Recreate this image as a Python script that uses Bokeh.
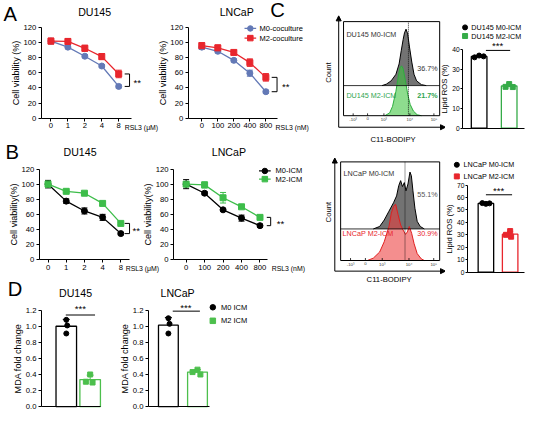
import numpy as np
from bokeh.plotting import figure
from bokeh.layouts import row, column
from bokeh.models import (Range1d, FixedTicker, Label, Whisker, TeeHead,
                          ColumnDataSource, Arrow, NormalHead, PrintfTickFormatter)
from bokeh.core.properties import value
from bokeh.embed import file_html
from bokeh.resources import INLINE

FONT = "Liberation Sans"
SX = 530 / 546
SY = 410 / 426

# ---------------- data ----------------
dose_pos = [0, 1, 2, 3, 4]
dose_uM = ["0", "1", "2", "4", "8"]
dose_nM = ["0", "100", "200", "400", "800"]

a_du145_m0 = [102, 94, 82, 69, 42]
a_du145_m0_err = [3, 2, 2, 2, 2]
a_du145_m2 = [102, 101.5, 92.5, 81.5, 58.5]
a_du145_m2_err = [4, 4, 4, 4, 5]
a_lncap_m0 = [94, 88.5, 76.5, 59.5, 35]
a_lncap_m0_err = [3, 2, 2, 4, 2]
a_lncap_m2 = [96, 93, 87, 73.5, 54]
a_lncap_m2_err = [4, 4, 3, 5, 5]

b_du145_m0 = [100, 77.5, 64.5, 56, 34.5]
b_du145_m0_err = [5, 3, 4, 4, 1.5]
b_du145_m2 = [100, 90.5, 88, 74.5, 48]
b_du145_m2_err = [4, 1.5, 1.5, 3, 1.5]
b_lncap_m0 = [100, 88, 66, 55, 45]
b_lncap_m0_err = [6, 2, 1.5, 4, 2]
b_lncap_m2 = [100, 99, 82, 70, 56]
b_lncap_m2_err = [3, 4, 7, 1.5, 1.5]

# flow histograms: x = channel position across the plot box (0-100), y = height in box (0-100)
du145_m0_hist_x = [40, 44.5, 49.5, 54.5, 57.8, 60, 62, 63.4, 65, 66.7, 68.6, 71, 73.3, 76, 81, 86]
du145_m0_hist_y = [32, 33.5, 37, 44, 55, 69, 81, 88, 92, 87, 73, 57, 44, 37, 33, 32]
du145_m2_hist_x = [43, 48, 51, 54.5, 57, 58.7, 60.4, 62, 64.4, 66.7, 69.3, 72.6, 76.6, 81]
du145_m2_hist_y = [0, 3, 10, 26, 42, 51, 53, 50, 37, 23, 12, 5, 1, 0]
lncap_m0_hist_x = [33, 39.4, 44, 48.8, 53.4, 56.5, 58.7, 60.6, 62.4, 64.3, 66, 68, 70, 71.4, 73, 75, 77.3, 80.4, 84.5]
lncap_m0_hist_y = [32, 34.5, 41, 50, 58.6, 65.5, 76, 81, 75, 79, 70.7, 77.6, 89.7, 86, 70.7, 53, 39.7, 34.5, 32]
lncap_m2_hist_x = [27, 33, 39.4, 44, 48.8, 51.2, 53.4, 55.6, 58, 60.6, 63, 65.5, 67.4, 69.3, 71.7, 74.2, 77.3, 81.4, 84.5]
lncap_m2_hist_y = [0, 2.4, 8.6, 19, 34.5, 48, 55, 57, 46.5, 36, 31, 26.5, 29, 34.5, 27.6, 17, 7, 1.7, 0]
du145_gate = 67.5
lncap_gate = 65
flow_ticks = [10, 25, 42, 69, 94]
flow_tick_labels = ["-10³", "0", "10³", "10⁴", "10⁵"]
du145_pct = ["36.7%", "21.7%"]
lncap_pct = ["55.1%", "30.9%"]

c_du145_m0 = [36.0, 36.9, 36.5]
c_du145_m2 = [21.0, 22.4, 20.9]
c_lncap_m0 = [55.5, 54.9, 55.3]
c_lncap_m2 = [33.0, 30.0, 28.5]

d_du145_m0 = [1.08, 1.01, 0.91]
d_du145_m2 = [0.40, 0.31, 0.30]
d_lncap_m0 = [1.10, 1.03, 0.91]
d_lncap_m2 = [0.46, 0.43, 0.40]

# ---------------- styles ----------------
BLUE = "#6379b6"
RED = "#e8262d"
GREEN_B = "#3dbd4a"
GREEN_C = "#35ab48"
GREEN_D = "#4cbf4c"


def fs(px):
    return f"{px * SY:.1f}px"


class Map:
    """layout helper: canvas box in reference pixels + data<->pixel anchor and scale"""
    def __init__(self, canvas, xa, Xa, kx, ya, Ya, ky):
        self.canvas, self.xa, self.Xa, self.kx, self.ya, self.Ya, self.ky = canvas, xa, Xa, kx, ya, Ya, ky

    def x(self, px):
        return self.xa + (px - self.Xa) / self.kx

    def y(self, py):
        return self.ya + (self.Ya - py) / self.ky


def mk(m, axes=True, overlap_from=None):
    """overlap_from: right edge (ref px) of the left neighbour; canvas then overlaps it, transparently"""
    cx0, cx1, cy0, cy1 = m.canvas
    W = round(cx1 * SX) - round(cx0 * SX)
    H = round(cy1 * SY) - round(cy0 * SY)
    kw = {} if axes else dict(x_axis_type=None, y_axis_type=None)
    if overlap_from is not None:
        kw["margin"] = (0, 0, 0, -(round(overlap_from * SX) - round(cx0 * SX)))
    p = figure(width=W, height=H, x_range=Range1d(m.x(cx0), m.x(cx1)), y_range=Range1d(m.y(cy1), m.y(cy0)),
               output_backend="svg", toolbar_location=None, min_border=0,
               min_border_left=0, min_border_right=0, min_border_top=0, min_border_bottom=0, **kw)
    p.outline_line_color = None
    if overlap_from is not None:
        p.background_fill_color = None
        p.border_fill_color = None
    else:
        p.background_fill_color = "white"
        p.border_fill_color = "white"
    if axes:
        p.xgrid.grid_line_color = None
        p.ygrid.grid_line_color = None
    return p


def style(ax, fixed, ticks, labels=None, bounds=None, fsz=8, label=None, lsz=9.5, fmt=None, tick_out=3,
          standoff=2, label_standoff=0):
    ax.fixed_location = fixed
    ax.ticker = FixedTicker(ticks=ticks)
    if labels is not None:
        ax.major_label_overrides = {t: l for t, l in zip(ticks, labels)}
    if fmt:
        ax.formatter = PrintfTickFormatter(format=fmt)
    if bounds:
        ax.bounds = bounds
    ax.axis_line_color = "black"
    ax.axis_line_width = 1
    ax.major_tick_line_color = "black"
    ax.major_tick_line_width = 1
    ax.major_tick_out = tick_out
    ax.major_tick_in = 0
    ax.minor_tick_line_color = None
    ax.major_label_text_font = FONT
    ax.major_label_text_font_size = fs(fsz)
    ax.major_label_text_color = "black"
    ax.major_label_standoff = standoff if tick_out else 0
    if label:
        ax.axis_label = label
        ax.axis_label_text_font = FONT
        ax.axis_label_text_font_size = fs(lsz)
        ax.axis_label_text_font_style = "normal"
        ax.axis_label_text_color = "black"
        ax.axis_label_standoff = label_standoff


def lab(p, m, px, py, text, size, align="center", color="black", angle=0, bold=False):
    p.add_layout(Label(x=m.x(px), y=m.y(py), text=text, text_font=FONT, text_font_size=fs(size),
                       text_align=align, text_baseline="middle", text_color=color,
                       angle=angle, text_font_style="bold" if bold else "normal"))


def dlab(p, x, y, text, size, align="center", color="black", angle=0, bold=False):
    p.add_layout(Label(x=x, y=y, text=text, text_font=FONT, text_font_size=fs(size),
                       text_align=align, text_baseline="middle", text_color=color,
                       angle=angle, text_font_style="bold" if bold else "normal"))


def key(p, m, entries, x_center, rows_y, text_x, size=8, with_line=False, msize=5.5):
    """legend keys: marker (+ short line) and label for each series"""
    for (text, col, marker), yc in zip(entries, rows_y):
        yd = m.y(yc)
        if with_line:
            p.line([m.x(x_center - 6), m.x(x_center + 6)], [yd, yd], line_color=col, line_width=1.3)
        p.scatter([m.x(x_center)], [yd], marker=marker, size=msize, fill_color=col, line_color=col)
        lab(p, m, text_x, yc, text, size, align="left")


def whisk(p, src, col, head):
    p.add_layout(Whisker(source=src, base="x", lower="lo", upper="hi", line_color=col, line_width=1,
                         lower_head=TeeHead(size=head, line_color=col, line_width=1),
                         upper_head=TeeHead(size=head, line_color=col, line_width=1)))


def curves(p, m0, m0e, m2, m2e, c0, c2):
    for ys, es, col, mkr in ((m0, m0e, c0, "circle"), (m2, m2e, c2, "square")):
        src = ColumnDataSource(dict(x=dose_pos, y=ys,
                                    lo=[a - b for a, b in zip(ys, es)],
                                    hi=[a + b for a, b in zip(ys, es)]))
        p.line("x", "y", source=src, line_color=col, line_width=1.3)
        whisk(p, src, col, 6)
        p.scatter("x", "y", source=src, marker=mkr, size=6, fill_color=col, line_color=col)


STAR_DY = 2.0  # px: asterisks sit high in the text box


def bracket(p, m, px_cap, px_bar, y_hi, y_lo, px_star):
    x_cap, x_bar = m.x(px_cap), m.x(px_bar)
    p.line([x_cap, x_bar, x_bar, x_cap], [y_hi, y_hi, y_lo, y_lo], line_color="black", line_width=1)
    dlab(p, m.x(px_star), (y_hi + y_lo) / 2 - STAR_DY / m.ky, "**", 10)


def xy_panel(m, axis_px, end_px, xlabels, ylabel, m0, m0e, m2, m2e, c0, c2, **kw):
    p = mk(m, **kw)
    style(p.xaxis[0], 0, dose_pos, xlabels, bounds=(m.x(axis_px), m.x(end_px)))
    style(p.yaxis[0], m.x(axis_px), list(range(0, 121, 20)), bounds=(0, 120), label=ylabel)
    curves(p, m0, m0e, m2, m2e, c0, c2)
    return p


def bars(p, g0, g1, c0, c1, w, jit0, jit1, head=7, msize=5):
    means = [float(np.mean(g0)), float(np.mean(g1))]
    sds = [float(np.std(g0, ddof=1)), float(np.std(g1, ddof=1))]
    p.vbar(x=[0, 1], top=means, width=w, fill_color="white", line_color=[c0, c1], line_width=1.3)
    for i, (g, col, jit, mkr) in enumerate(((g0, c0, jit0, "circle"), (g1, c1, jit1, "square"))):
        src = ColumnDataSource(dict(x=[i], lo=[means[i] - sds[i]], hi=[means[i] + sds[i]]))
        whisk(p, src, col, head)
        p.scatter(x=[i + j for j in jit], y=g, marker=mkr, size=msize, fill_color=col, line_color=col)


# ---------------- panel A ----------------
mA1 = Map((0, 168, 0, 140), 0, 52, 17.46, 0, 122, 94 / 120)
pA1 = xy_panel(mA1, 42, 135, dose_uM, "Cell viability (%)",
               a_du145_m0, a_du145_m0_err, a_du145_m2, a_du145_m2_err, BLUE, RED)
bracket(pA1, mA1, 128, 133, a_du145_m2[-1], a_du145_m0[-1], 141)
lab(pA1, mA1, 10, 14, "A", 21)
lab(pA1, mA1, 97, 12, "DU145", 11)
lab(pA1, mA1, 128, 132, "RSL3 (μM)", 7.2, align="left")

mA2 = Map((148, 320, 0, 140), 0, 207, 16.5, 0, 122, 94 / 120)
pA2 = xy_panel(mA2, 193, 285, dose_nM, "Cell viability (%)",
               a_lncap_m0, a_lncap_m0_err, a_lncap_m2, a_lncap_m2_err, BLUE, RED, overlap_from=168)
bracket(pA2, mA2, 279, 284.5, a_lncap_m2[-1], a_lncap_m0[-1], 293.5)
lab(pA2, mA2, 243, 12, "LNCaP", 11)
lab(pA2, mA2, 283, 132, "RSL3 (nM)", 7.2, align="left")
lab(pA2, mA2, 285, 10, "C", 21)
key(pA2, mA2, [("M0-coculture", BLUE, "circle"), ("M2-coculture", RED, "square")], 257, [29, 39],
    266.5, size=7.8, with_line=True)

# ---------------- panel B ----------------
mB1 = Map((0, 168, 140, 285), 0, 49, 18.75, 0, 269.5, 94.5 / 120)
pB1 = xy_panel(mB1, 40, 133, dose_uM, "Cell viability(%)",
               b_du145_m0, b_du145_m0_err, b_du145_m2, b_du145_m2_err, "black", GREEN_B)
bracket(pB1, mB1, 128, 133, b_du145_m2[-1], b_du145_m0[-1], 140)
lab(pB1, mB1, 12, 157, "B", 21)
lab(pB1, mB1, 82, 157, "DU145", 11)
lab(pB1, mB1, 129, 278.5, "RSL3 (μM)", 7.2, align="left")

mB2 = Map((142, 320, 140, 285), 0, 191, 19, 0, 269.5, 94.5 / 120)
pB2 = xy_panel(mB2, 178, 275, dose_nM, "Cell viability(%)",
               b_lncap_m0, b_lncap_m0_err, b_lncap_m2, b_lncap_m2_err, "black", GREEN_B, overlap_from=168)
bracket(pB2, mB2, 274, 278, b_lncap_m2[-1], b_lncap_m0[-1], 288)
lab(pB2, mB2, 235, 157, "LNCaP", 11)
lab(pB2, mB2, 279, 278.5, "RSL3 (nM)", 7.2, align="left")
key(pB2, mB2, [("M0-ICM", "black", "circle"), ("M2-ICM", GREEN_B, "square")], 272, [177, 185.5],
    283, size=7.8, with_line=True)

# ---------------- panel D ----------------
DTICKS = [0, 0.2, 0.4, 0.6, 0.8, 1.0, 1.2]
mD1 = Map((0, 118, 285, 426), 0, 67.5, 24.5, 0, 422, 100 / 1.2)
pD1 = mk(mD1)
style(pD1.xaxis[0], 0, [], bounds=(mD1.x(42), mD1.x(103)), tick_out=0)
style(pD1.yaxis[0], mD1.x(42), DTICKS, bounds=(0, 1.2), label="MDA fold change", fmt="%.1f")
bars(pD1, d_du145_m0, d_du145_m2, "black", GREEN_D, 0.86, [0, 0.04, 0], [0, -0.18, 0.1])
pD1.line([mD1.x(67), mD1.x(97)], [mD1.y(327), mD1.y(327)], line_color="black", line_width=1)
lab(pD1, mD1, 82, 318 + STAR_DY, "***", 10)
lab(pD1, mD1, 15, 300, "D", 21)
lab(pD1, mD1, 77, 304, "DU145", 11)

mD2 = Map((118, 320, 285, 426), 0, 172.5, 30, 0, 422, 100 / 1.2)
pD2 = mk(mD2)
style(pD2.xaxis[0], 0, [], bounds=(mD2.x(152), mD2.x(215)), tick_out=0)
style(pD2.yaxis[0], mD2.x(152), DTICKS, bounds=(0, 1.2), label="MDA fold change", fmt="%.1f")
bars(pD2, d_lncap_m0, d_lncap_m2, "black", GREEN_D, 0.68, [0, 0.04, 0], [0, -0.17, 0.1])
pD2.line([mD2.x(177), mD2.x(205)], [mD2.y(323), mD2.y(323)], line_color="black", line_width=1)
lab(pD2, mD2, 190.5, 317 + STAR_DY, "***", 10)
lab(pD2, mD2, 182, 304, "LNCaP", 11)
key(pD2, mD2, [("M0 ICM", "black", "circle"), ("M2 ICM", GREEN_D, "square")], 218.3, [319, 333],
    226.7, size=7.8)


# ---------------- panel C ----------------
def flow_panel(m, top_x, top_y, bot_x, bot_y, division, gate, bot_fill, bot_line, texts,
               arrow_px, arrow_py, arrow_top_py, arrow_right_px, count_xy, xlab_xy):
    p = mk(m, axes=False)
    p.varea(x=top_x, y1=[division] * len(top_x), y2=top_y, fill_color="#6c6c6c", fill_alpha=0.95)
    p.line(top_x, top_y, line_color="black", line_width=1)
    p.varea(x=bot_x, y1=[0] * len(bot_x), y2=bot_y, fill_color=bot_fill, fill_alpha=0.58)
    p.line(bot_x, bot_y, line_color=bot_line, line_width=1)
    p.quad(left=[0], right=[100], bottom=[0], top=[100], fill_color=None, line_color="black", line_width=1)
    p.segment(x0=[0], y0=[division], x1=[100], y1=[division], line_color="black", line_width=0.8)
    p.segment(x0=[gate], y0=[0], x1=[gate], y1=[100], line_color="black", line_width=0.8, line_dash="1 1")
    p.segment(x0=flow_ticks, y0=[0] * len(flow_ticks), x1=flow_ticks, y1=[2.5] * len(flow_ticks),
              line_color="black", line_width=0.8)
    tsrc = ColumnDataSource(dict(x=flow_ticks, y=[-1.5] * len(flow_ticks), t=flow_tick_labels))
    p.text(x="x", y="y", text="t", source=tsrc, text_font=value(FONT), text_font_size=fs(4.5),
           text_align="center", text_baseline="top", text_color="#333333")
    head = dict(size=5, fill_color="black", line_color="black", line_width=1)
    ax_u, ax_v = m.x(arrow_px), m.y(arrow_py)
    p.add_layout(Arrow(end=NormalHead(**head), x_start=ax_u, y_start=ax_v, x_end=ax_u,
                       y_end=m.y(arrow_top_py), line_color="black", line_width=1))
    p.add_layout(Arrow(end=NormalHead(**head), x_start=ax_u, y_start=ax_v, x_end=m.x(arrow_right_px),
                       y_end=ax_v, line_color="black", line_width=1))
    for (x, y, t, al, col, bold) in texts:
        dlab(p, x, y, t, 7.5, align=al, color=col, bold=bold)
    lab(p, m, count_xy[0], count_xy[1], "Count", 8, angle=np.pi / 2)
    lab(p, m, xlab_xy[0], xlab_xy[1], "C11-BODIPY", 8)
    return p


mH1 = Map((320, 458, 0, 150), 0, 353, 0.99, 0, 120, 0.98)
pH1 = flow_panel(mH1, du145_m0_hist_x, du145_m0_hist_y, du145_m2_hist_x, du145_m2_hist_y, 32, du145_gate,
                 "#3cc43c", "#2eae3e",
                 [(3, 86, "DU145  M0-ICM", "left", "#333333", False),
                  (98, 50, du145_pct[0], "right", "#333333", False),
                  (3, 21, "DU145 M2-ICM", "left", "#2ea44f", False),
                  (98, 21, du145_pct[1], "right", "#2ea44f", True)],
                 348, 132, 16, 458, (337, 75), (404, 145))

mH2 = Map((320, 458, 150, 300), 0, 350, 1.02, 0, 270, 1.02)
pH2 = flow_panel(mH2, lncap_m0_hist_x, lncap_m0_hist_y, lncap_m2_hist_x, lncap_m2_hist_y, 32, lncap_gate,
                 "#ec3c3c", "#e02020",
                 [(3, 88, "LNCaP  M0-ICM", "left", "#333333", False),
                  (98, 67, lncap_pct[0], "right", "#555555", False),
                  (2, 27, "LNCaP M2-ICM", "left", "#e8262d", False),
                  (98, 27, lncap_pct[1], "right", "#e8262d", False)],
                 344, 281, 164, 458, (337, 220), (400, 290))

mC1 = Map((448, 546, 0, 150), 0, 493, 31, 0, 133, 2.05)
pC1 = mk(mC1, overlap_from=458)
style(pC1.xaxis[0], 0, [], bounds=(mC1.x(476), mC1.x(540)), tick_out=0)
style(pC1.yaxis[0], mC1.x(476), [0, 10, 20, 30, 40], bounds=(0, 40), label="Lipid ROS (%)",
      fsz=7, lsz=8, tick_out=2, standoff=1)
bars(pC1, c_du145_m0, c_du145_m2, "black", GREEN_C, 0.52, [-0.15, 0, 0.15], [-0.12, 0.0, 0.12], head=6)
pC1.line([mC1.x(500), mC1.x(525)], [mC1.y(52), mC1.y(52)], line_color="black", line_width=1)
lab(pC1, mC1, 512, 45 + STAR_DY, "***", 10)
key(pC1, mC1, [("DU145 M0-ICM", "black", "circle"), ("DU145 M2-ICM", GREEN_C, "square")], 478.5, [28, 37],
    485, size=7.5, msize=5)

mC2 = Map((448, 546, 150, 300), 0, 500, 25, 0, 282, 90 / 70)
pC2 = mk(mC2, overlap_from=458)
style(pC2.xaxis[0], 0, [], bounds=(mC2.x(481), mC2.x(540)), tick_out=0)
style(pC2.yaxis[0], mC2.x(481), [0, 10, 20, 30, 40, 50, 60, 70], bounds=(0, 70), label="Lipid ROS (%)",
      fsz=7, lsz=8, tick_out=2, standoff=1)
bars(pC2, c_lncap_m0, c_lncap_m2, "black", RED, 0.64, [-0.15, 0, 0.15], [0, -0.17, 0.04], head=6)
pC2.line([mC2.x(500), mC2.x(527)], [mC2.y(202), mC2.y(202)], line_color="black", line_width=1)
lab(pC2, mC2, 513, 196 + STAR_DY, "***", 10)
key(pC2, mC2, [("LNCaP M0-ICM", "black", "circle"), ("LNCaP M2-ICM", RED, "square")], 470, [171, 183],
    477, size=7.5, msize=5)

left = column(row(pA1, pA2), row(pB1, pB2), row(pD1, pD2))
right = column(row(pH1, pC1), row(pH2, pC2))
root = row(left, right)

open("out.html", "w").write(file_html(root, INLINE))
